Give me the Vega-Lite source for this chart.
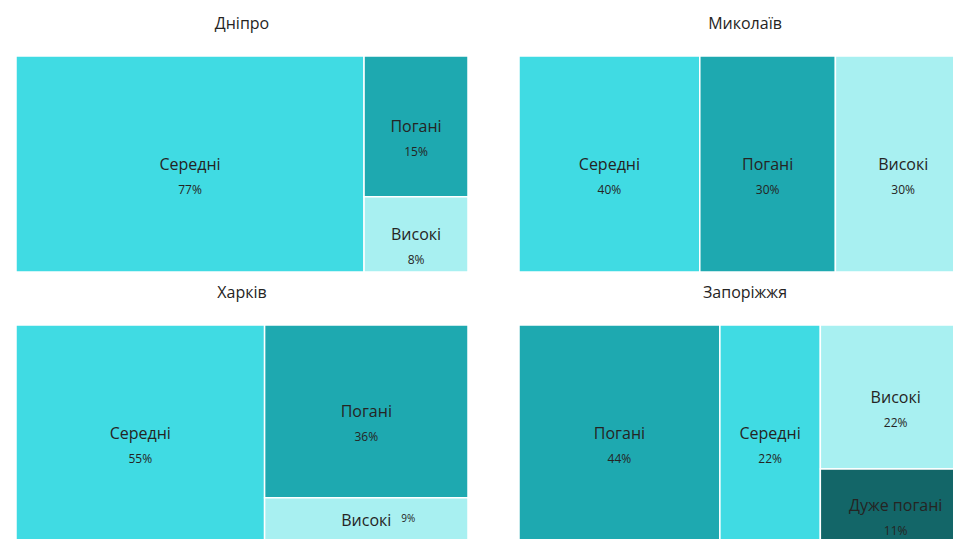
{
  "$schema": "https://vega.github.io/schema/vega-lite/v6.json",
  "padding": {"left": 15, "top": 16, "right": 0, "bottom": 0},
  "background": "white",
  "config": {"view": {"stroke": null}, "font": "Open Sans"},
  "data": {"values": [
    {"city": "Дніпро", "cat": "Середні", "col": 1, "order": 1, "value": 77, "pct": "77%"},
    {"city": "Дніпро", "cat": "Погані", "col": 2, "order": 1, "value": 15, "pct": "15%"},
    {"city": "Дніпро", "cat": "Високі", "col": 2, "order": 2, "value": 8, "pct": "8%"},
    {"city": "Миколаїв", "cat": "Середні", "col": 1, "order": 1, "value": 40, "pct": "40%"},
    {"city": "Миколаїв", "cat": "Погані", "col": 2, "order": 1, "value": 30, "pct": "30%"},
    {"city": "Миколаїв", "cat": "Високі", "col": 3, "order": 1, "value": 30, "pct": "30%"},
    {"city": "Харків", "cat": "Середні", "col": 1, "order": 1, "value": 55, "pct": "55%"},
    {"city": "Харків", "cat": "Погані", "col": 2, "order": 1, "value": 36, "pct": "36%"},
    {"city": "Харків", "cat": "Високі", "col": 2, "order": 2, "value": 9, "pct": "9%"},
    {"city": "Запоріжжя", "cat": "Погані", "col": 1, "order": 1, "value": 44, "pct": "44%"},
    {"city": "Запоріжжя", "cat": "Середні", "col": 2, "order": 1, "value": 22, "pct": "22%"},
    {"city": "Запоріжжя", "cat": "Високі", "col": 3, "order": 1, "value": 22, "pct": "22%"},
    {"city": "Запоріжжя", "cat": "Дуже погані", "col": 3, "order": 2, "value": 11, "pct": "11%"}
  ]},
  "transform": [
    {"stack": "value", "groupby": ["city"], "sort": [{"field": "col", "order": "ascending"}, {"field": "order", "order": "ascending"}], "offset": "normalize", "as": ["sx0", "sx1"]},
    {"joinaggregate": [{"op": "min", "field": "sx0", "as": "x0"}, {"op": "max", "field": "sx1", "as": "x1"}], "groupby": ["city", "col"]},
    {"stack": "value", "groupby": ["city", "col"], "sort": [{"field": "order", "order": "ascending"}], "offset": "normalize", "as": ["y0", "y1"]}
  ],
  "columns": 2,
  "spacing": {"column": 49, "row": 12},
  "facet": {
    "field": "city",
    "type": "nominal",
    "sort": ["Дніпро", "Миколаїв", "Харків", "Запоріжжя"],
    "header": {"title": null, "labelFontSize": 16, "labelColor": "#252423", "labelPadding": 23, "labelFont": "Open Sans"}
  },
  "spec": {
    "width": 452,
    "height": 216,
    "layer": [
      {
        "mark": {"type": "rect", "stroke": "white", "strokeWidth": 1.5},
        "encoding": {
          "x": {"field": "x0", "type": "quantitative", "scale": {"domain": [0, 1], "nice": false, "zero": false}, "axis": null},
          "x2": {"field": "x1"},
          "y": {"field": "y0", "type": "quantitative", "scale": {"domain": [0, 1], "nice": false, "zero": false, "reverse": true}, "axis": null},
          "y2": {"field": "y1"},
          "color": {"field": "cat", "type": "nominal", "legend": null,
            "scale": {"domain": ["Середні", "Погані", "Високі", "Дуже погані"], "range": ["#40dbe3", "#1ea9b0", "#a8f0f1", "#136668"]}}
        }
      },
      {
        "transform": [
          {"fold": ["x0", "x1"], "as": ["kx", "xv"]},
          {"aggregate": [{"op": "mean", "field": "xv", "as": "xm"}], "groupby": ["city", "cat", "pct", "y0", "y1"]},
          {"filter": "datum.y1 - datum.y0 >= 0.3"},
          {"fold": ["y0", "y1"], "as": ["ky", "yv"]},
          {"aggregate": [{"op": "mean", "field": "yv", "as": "ym"}], "groupby": ["city", "cat", "pct", "xm"]}
        ],
        "layer": [
          {
            "mark": {"type": "text", "fontSize": 16, "color": "#252423", "baseline": "middle", "dy": 1},
            "encoding": {
              "x": {"field": "xm", "type": "quantitative"},
              "y": {"field": "ym", "type": "quantitative"},
              "text": {"field": "cat"}
            }
          },
          {
            "mark": {"type": "text", "fontSize": 12, "color": "#252423", "baseline": "middle", "dy": 26},
            "encoding": {
              "x": {"field": "xm", "type": "quantitative"},
              "y": {"field": "ym", "type": "quantitative"},
              "text": {"field": "pct"}
            }
          }
        ]
      },
      {
        "transform": [
          {"fold": ["x0", "x1"], "as": ["kx", "xv"]},
          {"aggregate": [{"op": "mean", "field": "xv", "as": "xm"}], "groupby": ["city", "cat", "pct", "y0", "y1"]},
          {"filter": "datum.y1 - datum.y0 < 0.3"},
          {"fold": ["y0", "y1"], "as": ["ky", "yv"]},
          {"aggregate": [{"op": "mean", "field": "yv", "as": "ym"}], "groupby": ["city", "cat", "pct", "xm"]}
        ],
        "layer": [
          {
            "mark": {"type": "text", "fontSize": 16, "color": "#252423", "baseline": "middle", "dy": 2},
            "encoding": {
              "x": {"field": "xm", "type": "quantitative"},
              "y": {"field": "ym", "type": "quantitative"},
              "text": {"field": "cat"}
            }
          },
          {
            "mark": {"type": "text", "fontSize": 10, "color": "#252423", "baseline": "middle", "align": "left", "dx": 35, "dy": 0},
            "encoding": {
              "x": {"field": "xm", "type": "quantitative"},
              "y": {"field": "ym", "type": "quantitative"},
              "text": {"field": "pct"}
            }
          }
        ]
      }
    ]
  }
}
